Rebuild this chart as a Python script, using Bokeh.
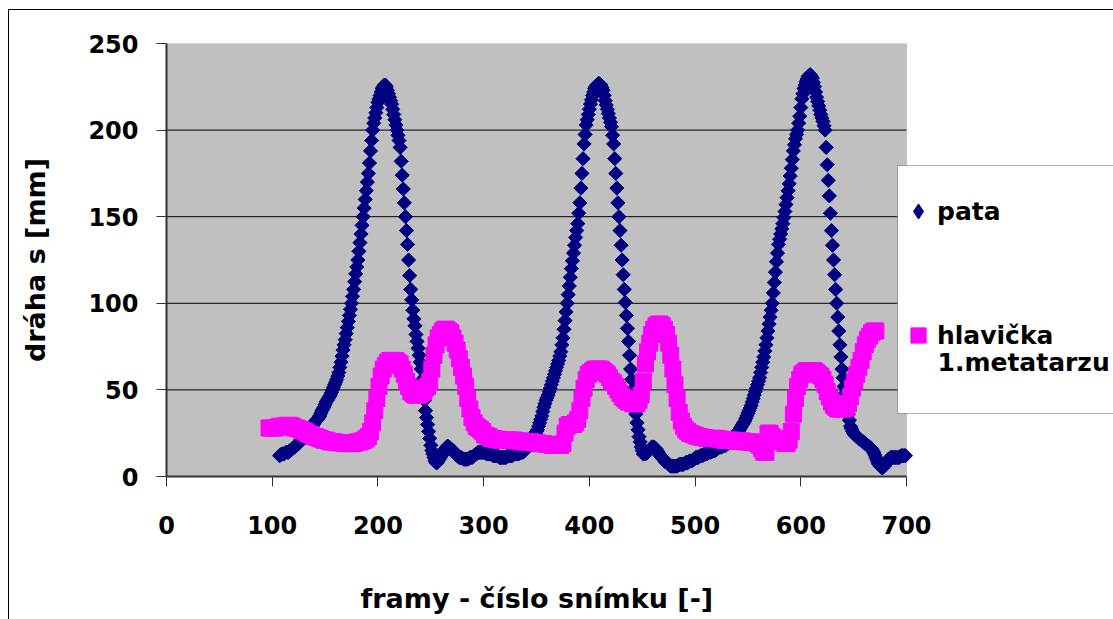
from bokeh.plotting import figure
from bokeh.models import (Range1d, FixedTicker, Legend, LegendItem, BoxAnnotation,
                          Label, Title, LinearAxis)
from bokeh.embed import file_html
from bokeh.resources import INLINE
import math

# ---- data ----
x_ticks = [0, 100, 200, 300, 400, 500, 600, 700]
y_ticks = [0, 50, 100, 150, 200, 250]

pata_frames = list(range(107, 700))
pata_s = [
    12, 12.5, 13, 13, 13, 13.5, 14, 14, 14, 14.5,
    15, 15.5, 16, 16.5, 17, 17.5, 18, 18.5, 19, 20,
    21, 21.5, 22, 23, 24, 24.5, 25, 26, 27, 27.5,
    28, 29, 30, 31, 32, 32.5, 33, 34, 35, 36.5,
    38, 39, 40, 41.5, 43, 44, 45, 46, 47, 48.5,
    50, 51.5, 53, 54.5, 56, 58, 60, 63, 66, 69.5,
    73, 76, 79, 82.5, 86, 89.5, 93, 96.5, 100, 104,
    108, 112.5, 117, 121, 125, 130, 135, 140, 145, 150,
    155, 160, 165, 170, 175, 181, 188, 194, 200, 204,
    207, 210, 213, 216, 218, 220, 222, 224, 225, 226,
    226, 225, 223, 221, 219, 217, 215, 212, 209, 206,
    203, 200, 197, 194, 190, 182, 174, 166, 158, 150,
    142, 134, 125, 116, 108, 102, 96, 91, 87, 82,
    78, 74, 70, 66, 62, 56, 50, 44, 38, 34,
    30, 26, 22, 18, 15, 13, 11, 9, 8, 8,
    9, 10, 11, 12, 13, 14, 15, 16, 17, 17.5,
    17, 16.5, 16, 15.5, 15, 14, 13, 12.5, 12, 11.5,
    11, 11, 11, 10.5, 10, 10, 10, 10, 10, 10.5,
    11, 11, 11, 11.5, 12, 12.5, 13, 13.5, 14, 14,
    14, 14, 14, 14, 14, 13.5, 13, 13, 13, 13,
    13, 12.5, 12, 12, 12, 12, 12, 11.5, 11, 11,
    11, 11, 11, 11, 11, 11.5, 12, 12, 12, 12,
    12, 12.5, 13, 13, 13, 13, 13, 13.5, 14, 14,
    14, 14.5, 15, 16, 17, 17.5, 18, 19, 20, 21,
    22, 23.5, 25, 26, 27, 29, 31, 33, 35, 37.5,
    40, 42, 44, 45.5, 47, 49, 51, 53, 55, 57,
    59, 61, 63, 65, 67, 69.5, 72, 76, 80, 85,
    90, 95, 100, 105, 110, 115, 120, 124.5, 129, 133.5,
    138, 142, 146, 152, 158, 166.5, 175, 183.5, 192, 197.5,
    203, 206, 209, 212, 215, 217.5, 220, 222, 224, 225,
    226, 226.5, 227, 226.5, 226, 224.5, 223, 220, 217, 214.5,
    212, 209.5, 207, 204.5, 202, 197, 192, 183.5, 175, 166.5,
    158, 150, 142, 133.5, 125, 116.5, 108, 100.5, 93, 85.5,
    78, 70, 62, 56, 50, 45.5, 41, 36, 31, 27,
    23, 20, 17, 15, 13, 13, 13, 13.5, 14, 14.5,
    15, 16, 17, 17, 17, 16.5, 16, 15, 14, 13,
    12, 11.5, 11, 10, 9, 8.5, 8, 7.5, 7, 6.5,
    6, 6, 6, 6, 6, 6, 6, 6.5, 7, 7,
    7, 7, 7, 7.5, 8, 8, 8, 8.5, 9, 9,
    9, 9.5, 10, 10.5, 11, 11, 11, 11.5, 12, 12,
    12, 12.5, 13, 13, 13, 13.5, 14, 14, 14, 14.5,
    15, 15, 15, 15.5, 16, 16.5, 17, 17, 17, 17.5,
    18, 18, 18, 18.5, 19, 19.5, 20, 21, 22, 22.5,
    23, 24, 25, 25.5, 26, 27, 28, 29, 30, 31,
    32, 33.5, 35, 36.5, 38, 39.5, 41, 43, 45, 47,
    49, 51, 53, 55, 57, 60, 63, 66, 69, 72.5,
    76, 80, 84, 88, 92, 96, 100, 106, 112, 118,
    124, 129, 134, 137, 140, 143, 146, 149.5, 153, 157,
    161, 165, 169, 173.5, 178, 183, 188, 191.5, 195, 197.5,
    200, 204, 208, 213, 218, 221, 224, 226, 228, 229.5,
    231, 231.5, 232, 231, 230, 227.5, 225, 222, 219, 216.5,
    214, 211.5, 209, 207, 205, 202.5, 200, 190, 180, 171,
    162, 152, 142, 133.5, 125, 116.5, 108, 100, 92, 84,
    76, 69, 62, 57, 52, 48, 44, 40, 36, 32.5,
    29, 27.5, 26, 25, 24, 23.5, 23, 22.5, 22, 21.5,
    21, 20.5, 20, 19.5, 19, 18.5, 18, 17.5, 17, 16.5,
    16, 15, 14, 12.5, 11, 9.5, 8, 7, 6, 5.5,
    5, 5.5, 6, 7, 8, 9, 10, 10.5, 11, 11,
    11, 11, 11, 11, 11, 11, 11, 11.5, 12, 12,
    12, 12, 12,
]

hlav_frames = list(range(97, 672, 2))
hlav_s = [
    28, 28, 28, 28, 28.5, 29, 29, 29, 29.5, 29.5,
    29.5, 29, 28, 28, 27.5, 27, 26.5, 26, 25, 24.5,
    24, 23, 23, 22.5, 22, 21.5, 21, 21, 20.5, 20,
    20, 20, 19.5, 19.5, 19.5, 19.5, 19, 19, 19, 19,
    19, 19.5, 20, 20, 20.5, 21, 22, 23, 26, 31,
    38, 45, 52, 58, 62, 64, 66, 67, 67, 67,
    67, 66, 65, 62, 59, 55, 52, 49, 48, 47,
    47, 47, 48, 49, 51, 52, 55, 62, 70, 76,
    80, 82, 84, 85, 85, 84, 83, 80, 77, 73,
    68, 63, 58, 52, 45, 39, 34, 31, 29, 28,
    27, 26, 24, 23.5, 23, 22, 22, 21.5, 21.5, 21,
    21, 21, 21, 21, 21, 21, 21, 20.5, 20.5, 20.5,
    20, 20, 20, 20, 20, 19.5, 19.5, 19.5, 19, 19,
    19, 18.5, 18.5, 18.5, 18, 18, 18, 18, 18, 19,
    25, 29, 30, 30, 30, 31, 33, 38, 45, 51,
    56, 59, 60, 61, 62, 62, 62, 62, 61, 60,
    59, 57, 55, 54, 52, 50, 48, 46, 45, 44,
    43, 43, 42, 42, 42, 44, 47, 55, 65, 72,
    77, 82, 85, 87, 88, 88, 87, 85, 82, 77,
    70, 62, 53, 45, 37, 32, 29, 27, 26, 25,
    24.5, 24, 23.5, 23, 23, 22.5, 22.5, 22, 22, 22,
    22, 22, 22, 21.5, 21.5, 21, 21, 21, 21, 21,
    20.5, 20.5, 20.5, 20.5, 20.5, 20, 20, 20, 20, 19.5,
    19.5, 19, 18, 16, 14, 14, 25, 25, 23, 21,
    21, 22, 21, 20, 19, 19, 21, 26, 36, 45,
    52, 56, 59, 60, 61, 61, 61, 61, 61, 60,
    59, 58, 56, 53, 49, 46, 43, 41, 40, 39,
    39, 39, 39, 40, 42, 46, 51, 55, 59, 63,
    67, 72, 76, 79, 81, 83, 84, 84,
]

series_names = ["pata", "hlavička", "1.metatarzu"]
x_title = "framy - číslo snímku [-]"
y_title = "dráha s [mm]"

FONT = "DejaVu Sans"

# ---- layout (page pixels) ----
OFF_X, OFF_Y = 9, 10            # outer chart border position
FIG_W, FIG_H = 1113 - OFF_X, 619 - OFF_Y
PA_LEFT, PA_RIGHT, PA_TOP, PA_BOTTOM = 166, 906, 43, 476   # plot area
frame_w = 1113 - PA_LEFT
x_end = x_ticks[-1] * frame_w / (PA_RIGHT - PA_LEFT)

p = figure(width=FIG_W, height=FIG_H, margin=(OFF_Y, 0, 0, OFF_X),
           styles={"box-shadow": "0 0 0 1px #000000"},
           x_range=Range1d(0, x_end), y_range=Range1d(y_ticks[0], y_ticks[-1]),
           output_backend="svg", toolbar_location=None,
           min_border_left=PA_LEFT - OFF_X, min_border_right=0,
           min_border_top=PA_TOP - OFF_Y, min_border_bottom=619 - PA_BOTTOM,
           background_fill_color="white", border_fill_color="white",
           outline_line_color=None)

p.xgrid.visible = False
p.ygrid.visible = False

# grey plot area
plot_area = BoxAnnotation(left=x_ticks[0], right=x_ticks[-1],
                          bottom=y_ticks[0], top=y_ticks[-1],
                          fill_color="#C0C0C0", fill_alpha=1,
                          line_color="#808080", line_width=1, level="image")
p.add_layout(plot_area)

# horizontal gridlines limited to the plot area
g = y_ticks[1:-1]
p.segment(x0=[x_ticks[0]] * len(g), x1=[x_ticks[-1]] * len(g), y0=g, y1=g,
          line_color="black", line_width=1, level="underlay")

for ax, ticks in ((p.xaxis[0], x_ticks), (p.yaxis[0], y_ticks)):
    ax.ticker = FixedTicker(ticks=ticks)
    ax.bounds = (ticks[0], ticks[-1])
    ax.major_tick_in = 0
    ax.major_tick_out = 10
    ax.major_tick_line_color = "#333333"
    ax.minor_tick_line_color = None
    ax.axis_line_color = "#333333"
    ax.axis_line_width = 2
    ax.major_label_text_font = FONT
    ax.major_label_text_font_style = "bold"
    ax.major_label_text_font_size = "24px"
    ax.major_label_text_color = "black"
    ax.axis_label_text_font = FONT
    ax.axis_label_text_font_style = "bold"
    ax.axis_label_text_font_size = "27px"
    ax.axis_label_text_color = "black"

p.yaxis.axis_label = y_title
p.xaxis.major_label_standoff = 29
p.yaxis.major_label_standoff = 18
p.yaxis.axis_label_standoff = 34

# blank spacer band between the x tick labels and the x title:
# one white (invisible) tick with an empty label, no axis line
spacer = LinearAxis(ticker=FixedTicker(ticks=[x_ticks[0]]), axis_line_color=None,
                    major_tick_line_color="white", minor_tick_line_color=None,
                    major_tick_in=0, major_tick_out=46, major_label_standoff=0,
                    major_label_overrides={x_ticks[0]: ""},
                    major_label_text_font_size="1px")
p.add_layout(spacer, "below")

# x-axis title, centred under the plot area (not under the whole frame)
p.add_layout(Title(text=x_title, align="left", offset=194, standoff=0,
                   vertical_align="top",
                   text_font=FONT, text_font_style="bold",
                   text_font_size="27px", text_color="black"), "below")

r_pata = p.scatter(pata_frames, pata_s, marker="square", angle=math.pi / 4, size=10,
                   fill_color="#000080", line_color="#000080")
r_hlav = p.scatter(hlav_frames, hlav_s, marker="square", size=16,
                   fill_color="#FF00FF", line_color="#FF00FF")
# same series drawn as diamonds, only used for the legend symbol
r_pata_leg = p.scatter(pata_frames, pata_s, marker="diamond", size=15,
                       fill_color="#000080", line_color="#000080", visible=False)

# legend box
lbox = BoxAnnotation(left=897 - OFF_X, right=1300, top=165 - OFF_Y, bottom=413 - OFF_Y,
                     left_units="canvas", right_units="canvas",
                     top_units="canvas", bottom_units="canvas",
                     fill_color="white", fill_alpha=1,
                     line_color="black", line_width=1)
p.add_layout(lbox)

legend = Legend(items=[LegendItem(label=series_names[0], renderers=[r_pata_leg]),
                       LegendItem(label=series_names[1], renderers=[r_hlav])],
                location=(733, 122), orientation="vertical",
                glyph_width=38, glyph_height=38, label_standoff=0,
                padding=0, margin=0, spacing=86,
                background_fill_alpha=0, border_line_alpha=0,
                label_text_font=FONT, label_text_font_style="bold",
                label_text_font_size="25px", label_text_color="black")
p.add_layout(legend)

# second line of the second legend entry
p.add_layout(Label(x=937 - OFF_X, y=362 - OFF_Y, x_units="canvas", y_units="canvas",
                   text=series_names[2], text_align="left", text_baseline="middle",
                   text_font=FONT, text_font_style="bold", text_font_size="25px",
                   text_color="black"))

open("out.html", "w").write(file_html(p, INLINE))
